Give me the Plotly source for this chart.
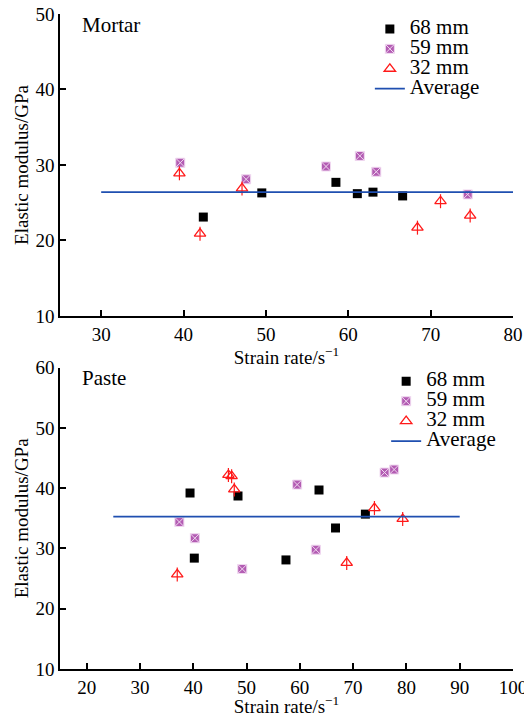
import plotly.graph_objects as go

# ---- Mortar data ----
m68_x = [42.4, 49.5, 58.5, 61.1, 63.0, 66.6]
m68_y = [23.1, 26.3, 27.7, 26.2, 26.4, 25.9]
m59_x = [39.6, 47.6, 57.3, 61.4, 63.4, 74.5]
m59_y = [30.3, 28.1, 29.8, 31.2, 29.1, 26.1]
m32_x = [39.5, 42.0, 47.1, 68.4, 71.2, 74.8]
m32_y = [28.9, 20.9, 26.9, 21.7, 25.2, 23.3]
m_avg_x = [30, 80]
m_avg_y = [26.4, 26.4]

# ---- Paste data ----
p68_x = [39.4, 40.2, 48.4, 57.4, 63.6, 66.7, 72.3]
p68_y = [39.2, 28.4, 38.7, 28.1, 39.7, 33.4, 35.7]
p59_x = [37.4, 40.3, 49.2, 59.5, 63.0, 75.9, 77.7]
p59_y = [34.4, 31.7, 26.6, 40.6, 29.8, 42.6, 43.1]
p32_x = [37.0, 46.6, 47.2, 47.7, 68.8, 74.0, 79.3]
p32_y = [25.7, 42.2, 42.0, 39.8, 27.6, 36.7, 34.9]
p_avg_x = [25, 90]
p_avg_y = [35.3, 35.3]

names = ["68 mm", "59 mm", "32 mm", "Average"]

FONT = "Liberation Serif, Times New Roman, serif"
BLACK = "#000000"
PURPLE = "#b35cb3"
RED = "#ff1a1a"
BLUE = "#1f4fb0"
LEGEND_TEXT = '<span style="font-size:21px">%s</span>'

fig = go.Figure()

def add_set(xs68, ys68, xs59, ys59, xs32, ys32, ax, ay, xa, ya, leg):
    fig.add_trace(go.Scatter(x=xs68, y=ys68, mode="markers", name=LEGEND_TEXT % names[0],
                             marker=dict(symbol="square", size=9, color=BLACK),
                             xaxis=xa, yaxis=ya, legend=leg))
    fig.add_trace(go.Scatter(x=xs59, y=ys59, mode="markers", name=LEGEND_TEXT % names[1],
                             marker=dict(symbol="square-x", size=9, color=PURPLE,
                                         line=dict(color="#f0d8f0", width=1)),
                             xaxis=xa, yaxis=ya, legend=leg))
    fig.add_trace(go.Scatter(x=xs32, y=ys32, mode="markers", name=LEGEND_TEXT % names[2],
                             legendgroup=leg + "32",
                             marker=dict(symbol="triangle-up-open", size=10, color=RED,
                                         line=dict(color=RED, width=1.3)),
                             xaxis=xa, yaxis=ya, legend=leg))
    fig.add_trace(go.Scatter(x=xs32, y=ys32, mode="markers", showlegend=False,
                             legendgroup=leg + "32",
                             marker=dict(symbol="line-ns-open", size=10, color=RED,
                                         line=dict(color=RED, width=1.2)),
                             xaxis=xa, yaxis=ya, legend=leg, hoverinfo="skip"))
    fig.add_trace(go.Scatter(x=ax, y=ay, mode="lines", name=LEGEND_TEXT % names[3],
                             line=dict(color=BLUE, width=1.8),
                             xaxis=xa, yaxis=ya, legend=leg))

add_set(m68_x, m68_y, m59_x, m59_y, m32_x, m32_y, m_avg_x, m_avg_y, "x", "y", "legend")
add_set(p68_x, p68_y, p59_x, p59_y, p32_x, p32_y, p_avg_x, p_avg_y, "x2", "y2", "legend2")

axis_common = dict(showline=True, linecolor="black", linewidth=1.5, ticks="inside",
                   ticklen=6, tickwidth=1.5, tickcolor="black", showgrid=False,
                   zeroline=False, mirror=False, automargin=False,
                   ticklabeloverflow="allow",
                   tickfont=dict(family=FONT, size=19, color="black"))
title_font = dict(family=FONT, size=19, color="black")

# The page body adds an 8px offset, so the figure is 8px smaller on each axis.
fig.update_layout(
    template="none",
    width=524, height=709,
    margin=dict(l=52, r=19, t=6, b=48, pad=0),
    paper_bgcolor="white", plot_bgcolor="white",
    font=dict(family=FONT, size=19, color="black"),
    xaxis=dict(axis_common, domain=[0, 1], range=[25, 80], tickvals=[30, 40, 50, 60, 70, 80],
               anchor="y", title=dict(text="Strain rate/s<sup>−1</sup>", font=title_font, standoff=0)),
    yaxis=dict(axis_common, domain=[0.539, 1], range=[10, 50], tickvals=[10, 20, 30, 40, 50],
               anchor="x", title=dict(text="Elastic modulus/GPa", font=title_font, standoff=2)),
    xaxis2=dict(axis_common, domain=[0, 1], range=[15, 100],
                tickvals=[20, 30, 40, 50, 60, 70, 80, 90, 100],
                anchor="y2", title=dict(text="Strain rate/s<sup>−1</sup>", font=title_font, standoff=0)),
    yaxis2=dict(axis_common, domain=[0, 0.46], range=[10, 60], tickvals=[10, 20, 30, 40, 50, 60],
                anchor="x2", title=dict(text="Elastic modulus/GPa", font=title_font, standoff=2)),
    legend=dict(x=0.684, y=1.0, xanchor="left", yanchor="top", bgcolor="rgba(0,0,0,0)",
                font=dict(family=FONT, size=13), tracegroupgap=0, itemwidth=30),
    legend2=dict(x=0.72, y=0.462, xanchor="left", yanchor="top", bgcolor="rgba(0,0,0,0)",
                 font=dict(family=FONT, size=13), tracegroupgap=0, itemwidth=30),
    annotations=[
        dict(text="Mortar", x=0.045, y=1.004, xref="paper", yref="paper", xanchor="left",
             yanchor="top", showarrow=False, font=dict(family=FONT, size=21)),
        dict(text="Paste", x=0.045, y=0.466, xref="paper", yref="paper", xanchor="left",
             yanchor="top", showarrow=False, font=dict(family=FONT, size=21)),
    ],
)

fig.write_html("out.html")
